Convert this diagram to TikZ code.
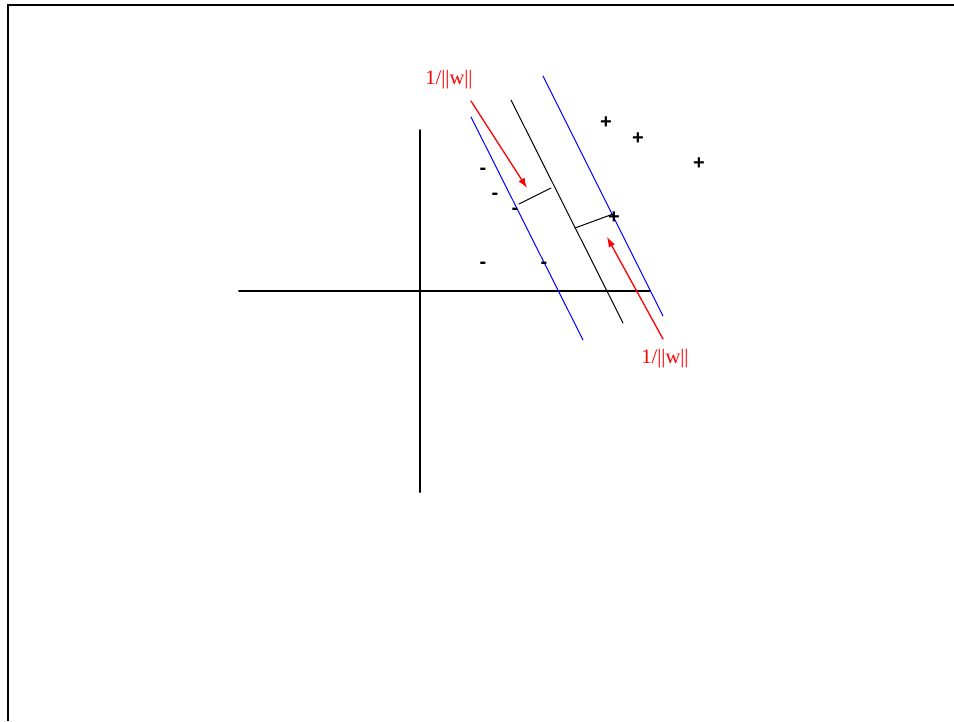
\documentclass[tikz,border=0pt]{standalone}
\usepackage{fontspec}
\setmainfont{Liberation Serif}
\setsansfont{Liberation Sans}
\usepackage{tkz-euclide}
\usetikzlibrary{arrows.meta}
\definecolor{MarginClr}{rgb}{0,0,1}
\definecolor{WidthClr}{rgb}{1,0,0}

\begin{document}
\begin{tikzpicture}[x=1pt,y=-1pt,
  sign/.style={font=\sffamily\bfseries\fontsize{20}{20}\selectfont,inner sep=0pt},
  possign/.style={sign,yshift=-1.5pt},
  negsign/.style={sign,yshift=-2.5pt},
  widthlabel/.style={text=WidthClr,font=\fontsize{20.5}{21}\selectfont,inner sep=0pt}]
\useasboundingbox (0,0) rectangle (954,721);

\tkzDefPoints{8/721/F1,8/5/F2,954/5/F3}
\tkzDefPoints{239/291/X1,650/291/X2,420/130/Y1,420/492/Y2}
\tkzDefPoints{471/117/M1,583/340/M2,511/100/H1,623/323/H2,543/76/P1,663/316/P2}
\tkzDefPoints{519/204/S1,551/188/S2,575/228/S3,613/214/S4}
\tkzDefPoints{471/101/A1,527/188/A2,663/339/B1,607/237/B2}

% frame
\draw[line width=2.5pt,black] (F1) -- (F2) -- (F3);

% axes
\tkzDrawSegments[line width=2pt,color=black](X1,X2 Y1,Y2)

% hyperplane and margins
\tkzDrawSegments[line width=1pt,color=MarginClr](M1,M2 P1,P2)
\tkzDrawSegments[line width=1pt,color=black](H1,H2 S1,S2 S3,S4)

% margin width
\tkzDrawSegments[line width=1.3pt,color=WidthClr,-{Latex[length=10pt,width=7pt]}](A1,A2 B1,B2)
\node[widthlabel] (w1) at (449,80) {1/||w||};
\node[widthlabel] (w2) at (665,359) {1/||w||};

% samples
\node[possign] (p1) at (606,121) {+};
\node[possign] (p2) at (638,137) {+};
\node[possign] (p3) at (699,162) {+};
\node[possign] (p4) at (614,216) {+};
\node[negsign] (n1) at (483,169) {-};
\node[negsign] (n2) at (495,194) {-};
\node[negsign] (n3) at (515,209) {-};
\node[negsign] (n4) at (483,263) {-};
\node[negsign] (n5) at (544,263) {-};

\end{tikzpicture}
\end{document}
